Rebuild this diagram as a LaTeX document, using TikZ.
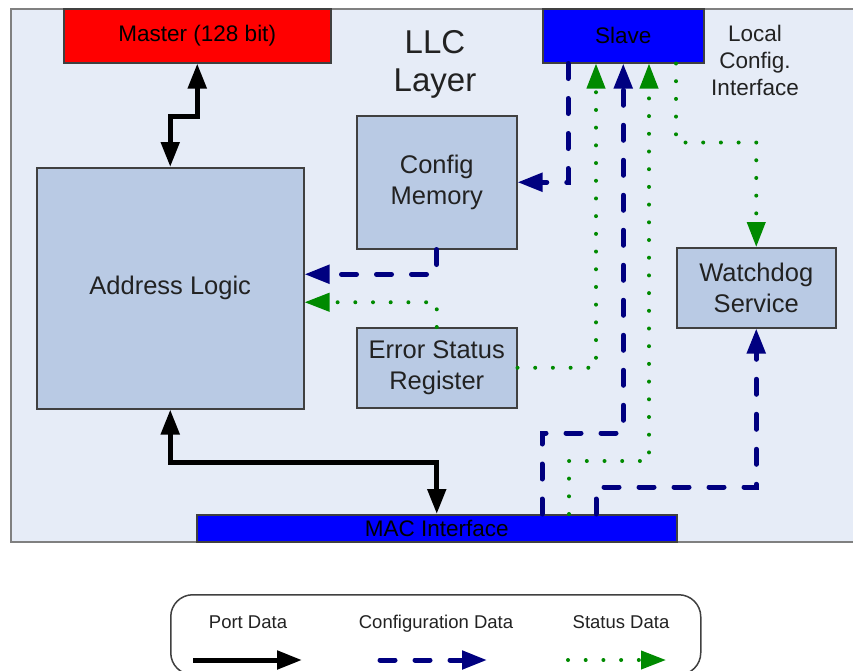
\documentclass[tikz,border=0pt]{standalone}
\usepackage{fontspec}
\setmainfont{Liberation Sans}
\usetikzlibrary{arrows.meta,calc}

\definecolor{llcbg}{HTML}{E6ECF7}
\definecolor{boxfill}{HTML}{B9CAE4}
\definecolor{boxline}{HTML}{404040}
\definecolor{frameline}{HTML}{808080}
\definecolor{cfgblue}{HTML}{000080}
\definecolor{statgreen}{HTML}{008A00}
\definecolor{ifaceblue}{HTML}{0000FF}
\definecolor{ifacered}{HTML}{FF0000}
\definecolor{txt}{HTML}{222222}

\tikzset{
  block/.style={draw=boxline, line width=1.5pt, fill=boxfill, anchor=north west,
    inner sep=0pt, align=center, text=txt, font=\fontsize{25.5}{31}\selectfont},
  iface/.style={block, font=\fontsize{22.5}{27}\selectfont, text=black},
  portdata/.style={draw=black, line width=5pt},
  cfgdata/.style={draw=cfgblue, line width=5pt, line cap=round, dash pattern=on 15pt off 20pt},
  statdata/.style={draw=statgreen, line width=4pt, line cap=round, dash pattern=on 0pt off 17.7pt},
  legendtext/.style={anchor=base, text=txt, font=\fontsize{18.5}{22}\selectfont},
  >={Triangle[length=25pt,width=18pt]}
}

\begin{document}
\begin{tikzpicture}[x=1pt, y=-1pt]
    \useasboundingbox (0,0) rectangle (853,670);
    \clip (0,0) rectangle (853,670);

    % LLC layer frame
    \node[draw=frameline, line width=2pt, fill=llcbg, anchor=north west, inner sep=0pt,
      minimum width=850pt, minimum height=533pt] (llc) at (10,8) {};
    \node[text=txt, align=center, font=\fontsize{33}{38}\selectfont] (llctitle) at (435,64) {LLC\\Layer};
    \node[text=txt, align=center, font=\fontsize{22.5}{27}\selectfont] (lci) at (755,60) {Local\\Config.\\Interface};

    % interfaces
    \node[iface, fill=ifacered, minimum width=267pt, minimum height=54pt] (master) at (63,8) {Master (128 bit)};
    \node[iface, fill=ifaceblue, minimum width=161pt, minimum height=54pt] (slave) at (542,8) {Slave};
    \node[iface, fill=ifaceblue, minimum width=480pt, minimum height=27pt] (mac) at (196,514) {MAC Interface};

    % blocks
    \node[block, minimum width=267pt, minimum height=241pt] (addr) at (36,167) {Address Logic};
    \node[block, minimum width=160pt, minimum height=133pt] (cfg) at (356,115) {Config\\Memory};
    \node[block, minimum width=160pt, minimum height=80pt] (esr) at (356,327) {Error Status\\Register};
    \node[block, minimum width=159pt, minimum height=80pt] (wd) at (676,247) {Watchdog\\Service};

    % port data
    \draw[portdata, <->] (master.south) -- ++(0,53) -| (addr.north);
    \draw[portdata, <->] (addr.south) -- ++(0,53) -| (mac.north);

    % configuration data
    \draw[cfgdata, ->] ($(slave.south west)+(26,0)$) |- (cfg.east);
    \draw[cfgdata, ->] (cfg.south) |- ($(addr.east)+(0,-14)$);
    \draw[cfgdata, ->] ($(mac.north west)+(346,0)$) -- ++(0,-81) -| (slave.south);
    \draw[cfgdata, ->] ($(mac.north west)+(400,0)$) -- ++(0,-27) -| (wd.south);

    % status data
    \draw[statdata, ->] (esr.north) |- ($(addr.east)+(0,14)$);
    \draw[statdata, ->] (esr.east) -| ($(slave.south west)+(54,0)$);
    \draw[statdata, ->] ($(mac.north west)+(373,0)$) -- ++(0,-53) -| ($(slave.south west)+(107,0)$);
    \draw[statdata, ->] ($(slave.south west)+(134,0)$) -- ++(0,79) -| (wd.north);

    % legend
    \node[draw=boxline, line width=1.5pt, fill=white, rounded corners=22pt, anchor=north west,
      inner sep=0pt, minimum width=530pt, minimum height=80pt] (legend) at (170,594) {};
    \node[legendtext] (lgport) at (248,628) {Port Data};
    \node[legendtext] (lgcfg) at (436,628) {Configuration Data};
    \node[legendtext] (lgstat) at (621,628) {Status Data};
    \coordinate (lp1) at (193,660);
    \coordinate (lp2) at (302,660);
    \coordinate (lc1) at (380,660);
    \coordinate (lc2) at (487,660);
    \coordinate (ls1) at (568,660);
    \coordinate (ls2) at (666,660);
    \draw[portdata, ->] (lp1) -- (lp2);
    \draw[cfgdata, ->] (lc1) -- (lc2);
    \draw[statdata, ->] (ls1) -- (ls2);
\end{tikzpicture}
\end{document}
